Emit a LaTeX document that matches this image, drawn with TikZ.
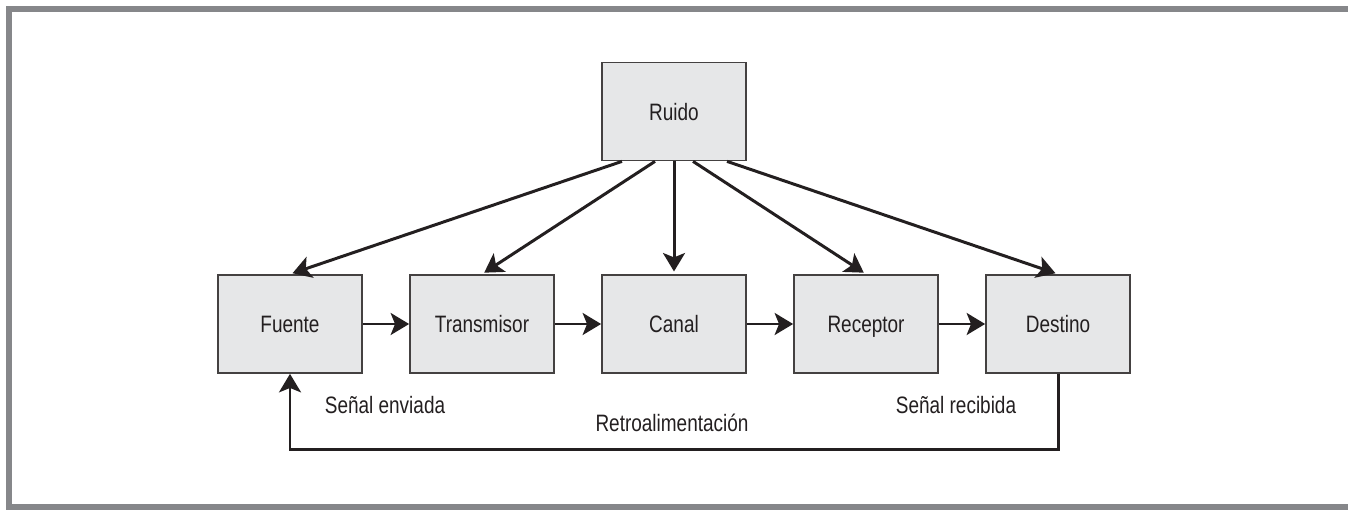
\documentclass[tikz,border=0pt]{standalone}
\usepackage{fontspec}
\setmainfont{Liberation Sans}[FakeStretch=0.8]
\usepackage{xcolor}
\usepackage{tikz}
\usetikzlibrary{arrows.meta, positioning, calc}

\definecolor{boxfill}{HTML}{E6E7E8}
\definecolor{framegray}{HTML}{86878A}
\definecolor{inkdark}{HTML}{231F20}

\begin{document}
\begin{tikzpicture}[
  box/.style  = {draw=inkdark!85, line width=1pt, fill=boxfill,
                 minimum width=2.88cm, minimum height=1.96cm, align=center,
                 text height=9.7pt, text depth=0pt,
                 text=inkdark, font=\fontsize{13.5}{16}\selectfont},
  lbl/.style  = {text=inkdark, font=\fontsize{13.5}{16}\selectfont},
  flow/.style = {->, draw=inkdark, line width=1.7pt},
  >={Stealth[length=10.5pt, width=12.5pt, inset=2.5pt]}
]
  \useasboundingbox (0,0) rectangle (26.96,-10.2);
  \clip (0,0) rectangle (26.96,-10.2);
  % frame
  \draw[framegray, line width=0.12cm] (0.18,-10.14) rectangle (27.3,-0.18);

  \node[box] (Ruido)      at (13.48,-2.23) {Ruido};
  \node[box] (Fuente)     at (5.80,-6.48)  {Fuente};
  \node[box] (Transmisor) at (9.64,-6.48)  {Transmisor};
  \node[box] (Canal)      at (13.48,-6.48) {Canal};
  \node[box] (Receptor)   at (17.32,-6.48) {Receptor};
  \node[box] (Destino)    at (21.16,-6.48) {Destino};

  % ruido hacia cada bloque
  \draw[flow, shorten >=1.5pt] ([xshift=-1.04cm]Ruido.south) -- (Fuente.north);
  \draw[flow, shorten >=1.5pt] ([xshift=-0.38cm]Ruido.south) -- (Transmisor.north);
  \draw[flow, shorten >=1.5pt] (Ruido.south) -- (Canal.north);
  \draw[flow, shorten >=1.5pt] ([xshift=0.38cm]Ruido.south) -- (Receptor.north);
  \draw[flow, shorten >=1.5pt] ([xshift=1.06cm]Ruido.south) -- (Destino.north);

  % cadena principal
  \draw[flow] (Fuente)     -- (Transmisor);
  \draw[flow] (Transmisor) -- (Canal);
  \draw[flow] (Canal)      -- (Receptor);
  \draw[flow] (Receptor)   -- (Destino);

  % retroalimentacion
  \draw[flow] (Destino.south) -- ++(0,-1.52) -| (Fuente.south);

  \node[lbl] (enviada)  at (7.70,-8.10)  {Señal enviada};
  \node[lbl] (retro)    at (13.44,-8.46) {Retroalimentación};
  \node[lbl] (recibida) at (19.12,-8.10) {Señal recibida};
\end{tikzpicture}
\end{document}
